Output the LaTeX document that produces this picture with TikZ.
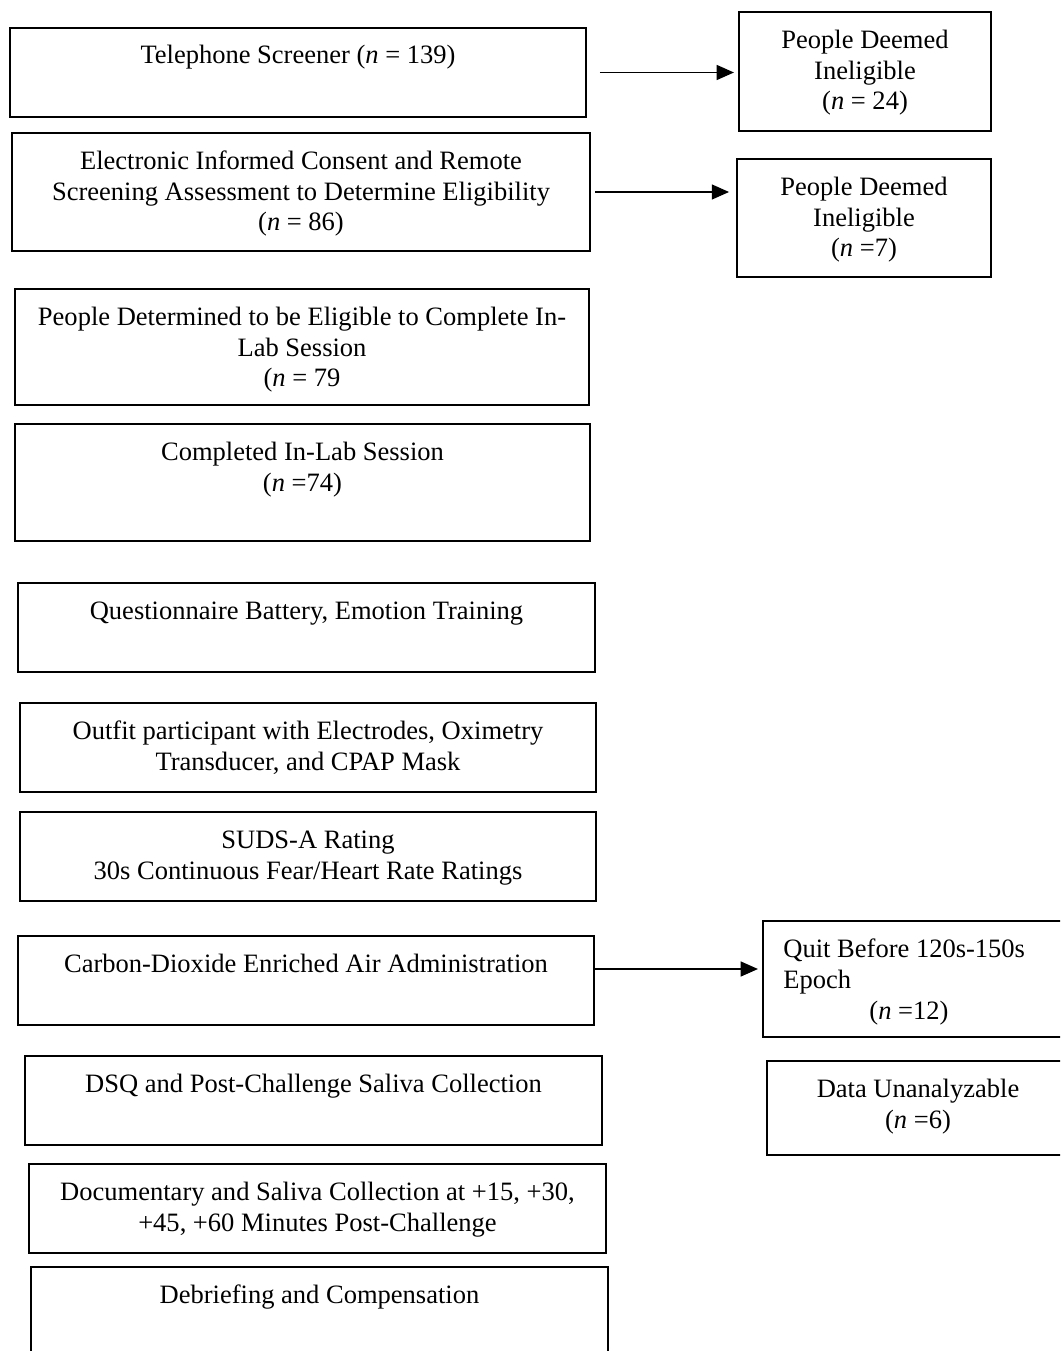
\documentclass[tikz,border=0pt]{standalone}
\usepackage{fontspec}
\setmainfont{Liberation Serif}
\usetikzlibrary{arrows.meta,calc}
\begin{document}
\begin{tikzpicture}[x=0.4525pt,y=-0.4525pt,
  box/.style={draw=black, line width=0.6pt, inner sep=0pt, outer sep=0pt, anchor=north west},
  txt/.style={font=\fontsize{12pt}{14pt}\selectfont, align=center, anchor=base, inner sep=0pt},
  arr/.style={line width=0.55pt, -{Triangle[length=7.8pt,width=6.8pt]}}]
\useasboundingbox (0,0) rectangle (1060,1351);
\clip (0,0) rectangle (1060,1351);
% main column boxes
\node[box, minimum width={576*0.4525pt}, minimum height={89*0.4525pt}] (b1) at (10,28) {};
\node[box, minimum width={578*0.4525pt}, minimum height={118*0.4525pt}] (b2) at (12,133) {};
\node[box, minimum width={574*0.4525pt}, minimum height={116*0.4525pt}] (b3) at (15,289) {};
\node[box, minimum width={575*0.4525pt}, minimum height={117*0.4525pt}] (b4) at (15,424) {};
\node[box, minimum width={577*0.4525pt}, minimum height={89*0.4525pt}] (b5) at (18,583) {};
\node[box, minimum width={576*0.4525pt}, minimum height={89*0.4525pt}] (b6) at (20,703) {};
\node[box, minimum width={576*0.4525pt}, minimum height={89*0.4525pt}] (b7) at (20,812) {};
\node[box, minimum width={576*0.4525pt}, minimum height={89*0.4525pt}] (b8) at (18,936) {};
\node[box, minimum width={577*0.4525pt}, minimum height={89*0.4525pt}] (b9) at (25,1056) {};
\node[box, minimum width={577*0.4525pt}, minimum height={89*0.4525pt}] (b10) at (29,1164) {};
\node[box, minimum width={577*0.4525pt}, minimum height={98*0.4525pt}] (b11) at (31,1267) {};
% side boxes
\node[box, minimum width={252*0.4525pt}, minimum height={119*0.4525pt}] (n1) at (739,12) {};
\node[box, minimum width={254*0.4525pt}, minimum height={118*0.4525pt}] (n2) at (737,159) {};
\node[box, minimum width={303*0.4525pt}, minimum height={116*0.4525pt}] (q) at (763,921) {};
\node[box, minimum width={303*0.4525pt}, minimum height={94*0.4525pt}] (d) at (767,1061) {};
% texts (anchor = baseline of the last line)
\node[txt] (t1) at (298,64) {Telephone Screener (\textit{n} = 139)};
\node[txt] (t2) at (301,231) {Electronic Informed Consent and Remote\\Screening Assessment to Determine Eligibility\\(\textit{n} = 86)};
\node[txt] (t3) at (302,387) {People Determined to be Eligible to Complete In-\\Lab Session\\(\textit{n} = 79};
\node[txt] (t4) at (302.5,491) {Completed In-Lab Session\\(\textit{n} =74)};
\node[txt] (t5) at (306.5,619) {Questionnaire Battery, Emotion Training};
\node[txt] (t6) at (308,770) {Outfit participant with Electrodes, Oximetry\\Transducer, and CPAP Mask};
\node[txt] (t7) at (308,879) {SUDS-A Rating\\30s Continuous Fear/Heart Rate Ratings};
\node[txt] (t8) at (306,972) {Carbon-Dioxide Enriched Air Administration};
\node[txt] (t9) at (313.5,1092) {DSQ and Post-Challenge Saliva Collection};
\node[txt] (t10) at (317.5,1231) {Documentary and Saliva Collection at +15, +30,\\+45, +60 Minutes Post-Challenge};
\node[txt] (t11) at (319.5,1303) {Debriefing and Compensation};
\node[txt] (tn1) at (865,110) {People Deemed\\Ineligible\\(\textit{n} = 24)};
\node[txt] (tn2) at (864,257) {People Deemed\\Ineligible\\(\textit{n} =7)};
\node[txt, align=left, anchor=base west] (tq) at (783,1019) {Quit Before 120s-150s\\Epoch\\\hspace*{38.9pt}(\textit{n} =12)};
\node[txt] (td) at (918,1128) {Data Unanalyzable\\(\textit{n} =6)};
% arrows
\draw[arr, shorten <=6.3pt, shorten >=2.3pt] (b1.east) -- (b1.east -| n1.west);
\draw[arr, shorten <=2.3pt, shorten >=3.6pt] (b2.east) -- (b2.east -| n2.west);
\coordinate (a3) at ($(b8.east)+(0,-11.5)$);
\draw[arr, shorten >=2.3pt] (a3) -- (a3 -| q.west);
\end{tikzpicture}
\end{document}
